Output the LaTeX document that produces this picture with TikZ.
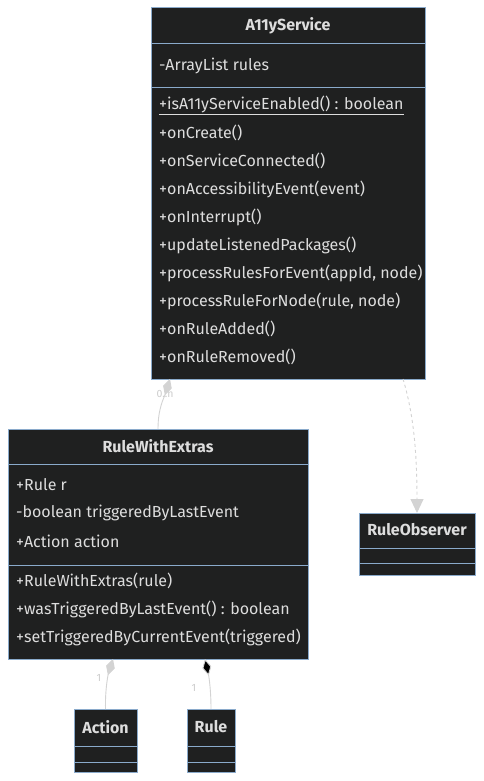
\documentclass[tikz,border=0pt]{standalone}
\usepackage{fontspec}
\setmainfont{Fira Sans}
\usetikzlibrary{arrows.meta}
\definecolor{boxfill}{HTML}{1F2020}
\definecolor{boxline}{HTML}{8AAACB}
\definecolor{txt}{HTML}{DDDDDD}
\definecolor{edgecol}{HTML}{D3D3D3}
\definecolor{lblcol}{HTML}{CCCCCC}
\tikzset{
  umlbox/.style={draw=boxline, fill=boxfill, line width=1pt, anchor=north west, inner sep=0pt, outer sep=0pt},
  divider/.style={draw=boxline, line width=1pt},
  member/.style={anchor=west, text=txt, font=\fontsize{16}{18}\selectfont, inner sep=0pt},
  header/.style={text=txt, font=\fontsize{16}{18}\selectfont\bfseries, inner sep=0pt},
  rel/.style={draw=edgecol, line width=0.9pt},
  mult/.style={text=lblcol, font=\fontsize{10.5}{12}\selectfont, inner sep=0pt}
}
\begin{document}
\begin{tikzpicture}[x=1pt,y=-1pt]
\useasboundingbox (0,0) rectangle (483,781);
\fill[white] (0,0) rectangle (483,781);

% A11yService
\node[umlbox, minimum width=274pt, minimum height=371pt] (svc) at (151,8) {};
\draw[divider] (151,44) -- (425,44);
\draw[divider] (151,88) -- (425,88);
\node[header] (svcT) at (288,26) {A11yService};
\node[member] (s0) at (159,66) {-ArrayList rules};
\node[member] (s1) at (159,105) {\underline{+isA11yServiceEnabled() : boolean}};
\node[member] (s2) at (159,133) {+onCreate()};
\node[member] (s3) at (159,161) {+onServiceConnected()};
\node[member] (s4) at (159,189) {+onAccessibilityEvent(event)};
\node[member] (s5) at (159,217) {+onInterrupt()};
\node[member] (s6) at (159,245) {+updateListenedPackages()};
\node[member] (s7) at (159,273) {+processRulesForEvent(appId, node)};
\node[member] (s8) at (159,301) {+processRuleForNode(rule, node)};
\node[member] (s9) at (159,329) {+onRuleAdded()};
\node[member] (s10) at (159,357) {+onRuleRemoved()};

% RuleWithExtras
\node[umlbox, minimum width=300pt, minimum height=230pt] (rwe) at (8,429) {};
\draw[divider] (8,464) -- (308,464);
\draw[divider] (8,565) -- (308,565);
\node[header] (rweT) at (158,446) {RuleWithExtras};
\node[member] (r1) at (16,485) {+Rule r};
\node[member] (r2) at (16,513) {-boolean triggeredByLastEvent};
\node[member] (r3) at (16,541) {+Action action};
\node[member] (r4) at (16,581) {+RuleWithExtras(rule)};
\node[member] (r5) at (16,609) {+wasTriggeredByLastEvent() : boolean};
\node[member] (r6) at (16,637) {+setTriggeredByCurrentEvent(triggered)};

% RuleObserver
\node[umlbox, minimum width=116pt, minimum height=62pt] (obs) at (359,513) {};
\draw[divider] (359,548) -- (475,548);
\draw[divider] (359,563) -- (475,563);
\node[header] (obsT) at (417,530) {RuleObserver};

% Action
\node[umlbox, minimum width=63pt, minimum height=63pt] (act) at (74,709) {};
\draw[divider] (74,746) -- (137,746);
\draw[divider] (74,762) -- (137,762);
\node[header] (actT) at (105.5,727) {Action};

% Rule
\node[umlbox, minimum width=48pt, minimum height=63pt] (rule) at (187,709) {};
\draw[divider] (187,746) -- (235,746);
\draw[divider] (187,762) -- (235,762);
\node[header] (ruleT) at (211,727) {Rule};

% connectors
\draw[rel, -{Diamond[length=17pt,width=9pt,fill=edgecol]}]
  (rwe.north) .. controls (158,408) and (164,398) .. ([xshift=-118pt]svc.south);
\node[mult] (m1) at (165,394) {0..n};

\draw[rel, dashed, dash pattern=on 3pt off 3pt, -{Triangle[length=14pt,width=13pt,fill=edgecol]}]
  ([xshift=115pt]svc.south) .. controls (414,415) and (417,455) .. (obs.north);

\draw[rel, -{Diamond[length=17pt,width=9pt,fill=edgecol]}]
  (act.north) .. controls (105,690) and (108,675) .. ([xshift=-45pt]rwe.south);
\node[mult] (m2) at (99,678) {1};

\draw[rel, -{Diamond[length=17pt,width=9pt,fill=black]}]
  (rule.north) .. controls (211,690) and (209,677) .. ([xshift=47pt]rwe.south);
\node[mult] (m3) at (194,688) {1};
\end{tikzpicture}
\end{document}
